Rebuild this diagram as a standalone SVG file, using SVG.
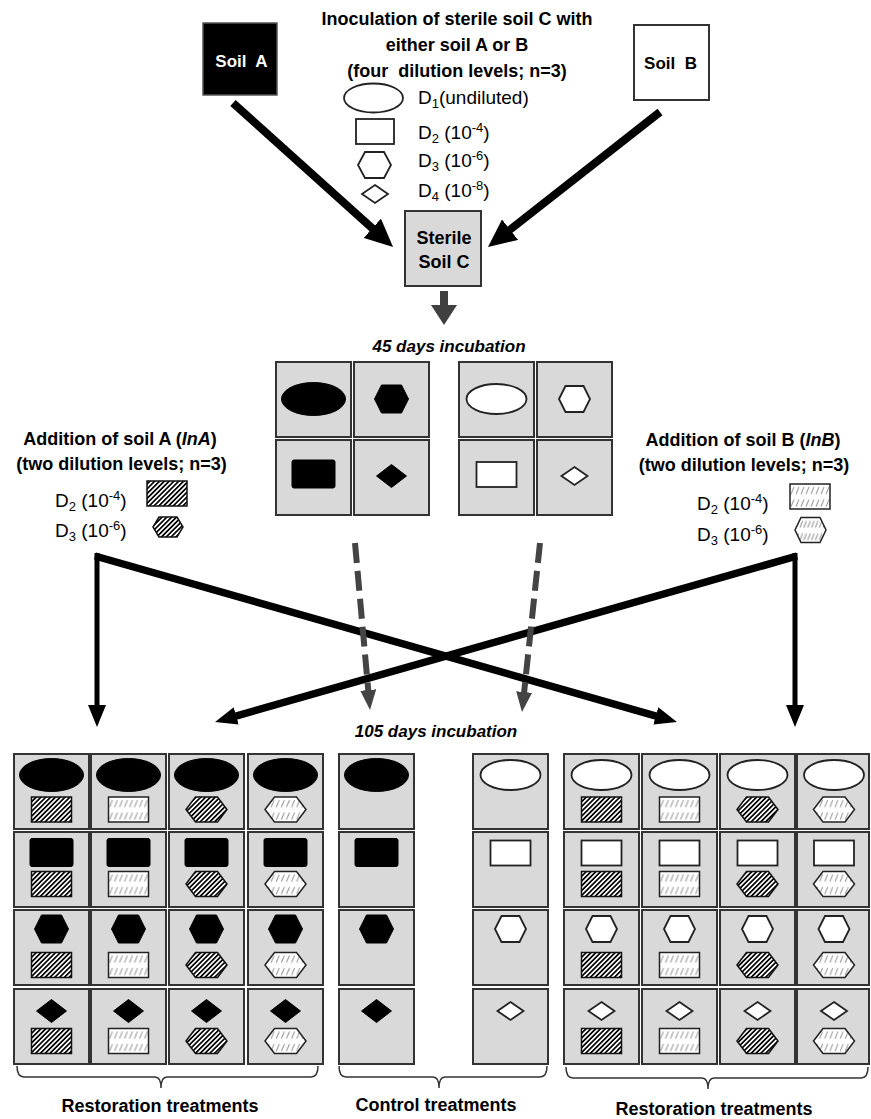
<svg xmlns="http://www.w3.org/2000/svg" xmlns:xlink="http://www.w3.org/1999/xlink" width="871" height="1119" viewBox="0 0 871 1119">
<defs>
<style>
text{font-family:"Liberation Sans",Arial,sans-serif;fill:#000}
.b{font-weight:bold}
.bi{font-weight:bold;font-style:italic}
.t18{font-size:18px}
.lg{font-size:19px}
.cell{fill:#d9d9d9;stroke:#333;stroke-width:2}
.blk{fill:#000;stroke:#000;stroke-width:1}
.wht{fill:#fff;stroke:#222;stroke-width:1.8}
.hd{fill:url(#hatchD);stroke:#111;stroke-width:1.5}
.hl{fill:url(#hatchL);stroke:#222;stroke-width:1.5}
.arr{stroke:#000;fill:none}
.dash{stroke:#444;stroke-width:6;stroke-dasharray:20 8;fill:none}
.brace{fill:none;stroke:#333;stroke-width:1.5}
</style>
<pattern id="hatchD" patternUnits="userSpaceOnUse" width="3.4" height="3.4" patternTransform="rotate(45)">
<rect width="3.4" height="3.4" fill="#fff"/><rect width="1.7" height="3.4" fill="#000"/>
</pattern>
<pattern id="hatchL" patternUnits="objectBoundingBox" width="0.125" height="0.5">
<rect width="8" height="16" fill="#fff"/><path d="M1,10 L4,3" stroke="#9a9a9a" stroke-width="1.1"/>
</pattern>
<marker id="bigHead" markerUnits="userSpaceOnUse" markerWidth="28" markerHeight="26" refX="6" refY="13" orient="auto"><path d="M0,0 L28,13 L0,26 z" fill="#000"/></marker>
<marker id="head" markerUnits="userSpaceOnUse" markerWidth="22" markerHeight="18" refX="5" refY="9" orient="auto"><path d="M0,0 L22,9 L0,18 z" fill="#000"/></marker>
<marker id="grayBig" markerUnits="userSpaceOnUse" markerWidth="20" markerHeight="26" refX="2" refY="13" orient="auto"><path d="M0,0 L20,13 L0,26 z" fill="#404040"/></marker>
<marker id="grayHead" markerUnits="userSpaceOnUse" markerWidth="20" markerHeight="16" refX="4" refY="8" orient="auto"><path d="M0,0 L20,8 L0,16 z" fill="#444"/></marker>
<ellipse id="ellBig" rx="32" ry="16.5"/>
<ellipse id="ellSm" rx="30" ry="15"/>
<rect id="recBig" x="-21.5" y="-14" width="43" height="28" rx="2"/>
<rect id="recSm" x="-20" y="-12.5" width="40" height="25"/>
<polygon id="hexBig" points="-17,0 -10,-14 10,-14 17,0 10,14 -10,14"/>
<polygon id="hexSm" points="-15.5,0 -9,-13 9,-13 15.5,0 9,13 -9,13"/>
<polygon id="hexH" points="-20.5,0 -11,-12.5 11,-12.5 20.5,0 11,12.5 -11,12.5"/>
<polygon id="diaBig" points="0,-11.5 15,0 0,11.5 -15,0"/>
<polygon id="diaSm" points="0,-9 13,0 0,9 -13,0"/>
</defs>
<rect width="871" height="1119" fill="#fff"/>

<g id="soilA">
<rect x="203" y="23" width="74" height="72" fill="#000" stroke="#555" stroke-width="1.5"/>
<text x="241.5" y="67" text-anchor="middle" class="b" font-size="17" style="fill:#fff" xml:space="preserve">Soil  A</text>
</g>
<g id="soilB">
<rect x="634" y="25" width="75" height="75" fill="#fff" stroke="#333" stroke-width="2"/>
<text x="670.5" y="69" text-anchor="middle" class="b" font-size="17" xml:space="preserve">Soil  B</text>
</g>

<g id="inoculation-legend">
<text x="457" y="25" text-anchor="middle" class="b t18">Inoculation of sterile soil C with</text>
<text x="457" y="51" text-anchor="middle" class="b t18">either soil A or B</text>
<text x="457" y="77" text-anchor="middle" class="b t18" xml:space="preserve">(four  dilution levels; n=3)</text>
<ellipse cx="373.5" cy="98" rx="29.5" ry="14.5" class="wht"/>
<rect x="356" y="119" width="38" height="25" class="wht"/>
<polygon points="358,165 365,152 384,152 391,165 384,178 365,178" class="wht"/>
<polygon points="375,185 388,194 375,203 362,194" class="wht"/>
<text x="418" y="104" class="lg">D<tspan font-size="13" dy="4">1</tspan><tspan dy="-4">(undiluted)</tspan></text>
<text x="418" y="139" class="lg">D<tspan font-size="13" dy="4">2</tspan><tspan dy="-4"> (10</tspan><tspan font-size="13" dy="-7">-4</tspan><tspan dy="7">)</tspan></text>
<text x="418" y="167" class="lg">D<tspan font-size="13" dy="4">3</tspan><tspan dy="-4"> (10</tspan><tspan font-size="13" dy="-7">-6</tspan><tspan dy="7">)</tspan></text>
<text x="418" y="197" class="lg">D<tspan font-size="13" dy="4">4</tspan><tspan dy="-4"> (10</tspan><tspan font-size="13" dy="-7">-8</tspan><tspan dy="7">)</tspan></text>
</g>

<g id="sterileC">
<rect x="405" y="211" width="76" height="75" class="cell"/>
<text x="444" y="244" text-anchor="middle" class="b t18">Sterile</text>
<text x="444" y="268" text-anchor="middle" class="b t18">Soil C</text>
</g>

<g id="incubation45">
<text x="449" y="352" text-anchor="middle" class="bi" font-size="17">45 days incubation</text>
<rect x="276" y="362" width="75" height="75" class="cell"/>
<rect x="354" y="362" width="75" height="75" class="cell"/>
<rect x="459" y="362" width="75" height="75" class="cell"/>
<rect x="537" y="362" width="75" height="75" class="cell"/>
<rect x="276" y="440" width="75" height="75" class="cell"/>
<rect x="354" y="440" width="75" height="75" class="cell"/>
<rect x="459" y="440" width="75" height="75" class="cell"/>
<rect x="537" y="440" width="75" height="75" class="cell"/>
<use xlink:href="#ellBig" x="313.5" y="399" class="blk"/>
<use xlink:href="#hexBig" x="391.5" y="399" class="blk"/>
<use xlink:href="#ellSm" x="496.5" y="399" class="wht"/>
<use xlink:href="#hexSm" x="574.5" y="399" class="wht"/>
<use xlink:href="#recBig" x="313.5" y="474" class="blk"/>
<use xlink:href="#diaBig" x="391.5" y="476" class="blk"/>
<use xlink:href="#recSm" x="496.5" y="474.5" class="wht"/>
<use xlink:href="#diaSm" x="574.5" y="476" class="wht"/>
</g>

<g id="additionA">
<text x="120" y="445" text-anchor="middle" class="b t18">Addition of soil A (<tspan font-style="italic">InA</tspan>)</text>
<text x="121.5" y="470" text-anchor="middle" class="b t18">(two dilution levels; n=3)</text>
<text x="55" y="507" class="lg">D<tspan font-size="13" dy="4">2</tspan><tspan dy="-4"> (10</tspan><tspan font-size="13" dy="-7">-4</tspan><tspan dy="7">)</tspan></text>
<text x="55" y="537" class="lg">D<tspan font-size="13" dy="4">3</tspan><tspan dy="-4"> (10</tspan><tspan font-size="13" dy="-7">-6</tspan><tspan dy="7">)</tspan></text>
<rect x="147" y="481" width="40" height="25" class="hd"/>
<polygon points="153,527 159,517 177,517 183,527 177,537 159,537" class="hd"/>
</g>

<g id="additionB">
<text x="743" y="446" text-anchor="middle" class="b t18">Addition of soil B (<tspan font-style="italic">InB</tspan>)</text>
<text x="744" y="471" text-anchor="middle" class="b t18">(two dilution levels; n=3)</text>
<text x="697" y="510" class="lg">D<tspan font-size="13" dy="4">2</tspan><tspan dy="-4"> (10</tspan><tspan font-size="13" dy="-7">-4</tspan><tspan dy="7">)</tspan></text>
<text x="697" y="541" class="lg">D<tspan font-size="13" dy="4">3</tspan><tspan dy="-4"> (10</tspan><tspan font-size="13" dy="-7">-6</tspan><tspan dy="7">)</tspan></text>
<rect x="790" y="484" width="40" height="25" class="hl"/>
<polygon points="795,530 801,517.5 820,517.5 826,530 820,542.5 801,542.5" class="hl"/>
</g>

<g id="connectors">
<line x1="233" y1="103" x2="376.7" y2="232.3" class="arr" stroke-width="8" marker-end="url(#bigHead)"/>
<line x1="660" y1="112" x2="505.3" y2="233.4" class="arr" stroke-width="8" marker-end="url(#bigHead)"/>
<line x1="444" y1="291" x2="444" y2="307" stroke="#404040" stroke-width="8" marker-end="url(#grayBig)"/>
<line x1="97" y1="553" x2="97" y2="710" class="arr" stroke-width="5" marker-end="url(#head)"/>
<line x1="95" y1="556" x2="660.6" y2="717.3" class="arr" stroke-width="7.5" marker-end="url(#head)"/>
<line x1="795" y1="553" x2="795" y2="710" class="arr" stroke-width="5" marker-end="url(#head)"/>
<line x1="797" y1="556" x2="231.4" y2="717.3" class="arr" stroke-width="7.5" marker-end="url(#head)"/>
<line x1="355" y1="543" x2="368.6" y2="694" class="dash" marker-end="url(#grayHead)"/>
<line x1="540" y1="543" x2="523.7" y2="696" class="dash" marker-end="url(#grayHead)"/>
</g>

<text x="436" y="737" text-anchor="middle" class="bi" font-size="17">105 days incubation</text>

<g id="restorationA">
<rect x="14" y="754" width="75" height="75" class="cell"/>
<rect x="91" y="754" width="75" height="75" class="cell"/>
<rect x="169" y="754" width="75" height="75" class="cell"/>
<rect x="248" y="754" width="75" height="75" class="cell"/>
<rect x="14" y="832" width="75" height="75" class="cell"/>
<rect x="91" y="832" width="75" height="75" class="cell"/>
<rect x="169" y="832" width="75" height="75" class="cell"/>
<rect x="248" y="832" width="75" height="75" class="cell"/>
<rect x="14" y="910" width="75" height="75" class="cell"/>
<rect x="91" y="910" width="75" height="75" class="cell"/>
<rect x="169" y="910" width="75" height="75" class="cell"/>
<rect x="248" y="910" width="75" height="75" class="cell"/>
<rect x="14" y="989" width="75" height="75" class="cell"/>
<rect x="91" y="989" width="75" height="75" class="cell"/>
<rect x="169" y="989" width="75" height="75" class="cell"/>
<rect x="248" y="989" width="75" height="75" class="cell"/>
<use xlink:href="#ellBig" x="51.5" y="775" class="blk"/>
<use xlink:href="#ellBig" x="128.5" y="775" class="blk"/>
<use xlink:href="#ellBig" x="206.5" y="775" class="blk"/>
<use xlink:href="#ellBig" x="285.5" y="775" class="blk"/>
<use xlink:href="#recBig" x="51.5" y="852.5" class="blk"/>
<use xlink:href="#recBig" x="128.5" y="852.5" class="blk"/>
<use xlink:href="#recBig" x="206.5" y="852.5" class="blk"/>
<use xlink:href="#recBig" x="285.5" y="852.5" class="blk"/>
<use xlink:href="#hexBig" x="51.5" y="929" class="blk"/>
<use xlink:href="#hexBig" x="128.5" y="929" class="blk"/>
<use xlink:href="#hexBig" x="206.5" y="929" class="blk"/>
<use xlink:href="#hexBig" x="285.5" y="929" class="blk"/>
<use xlink:href="#diaBig" x="51.5" y="1011" class="blk"/>
<use xlink:href="#diaBig" x="128.5" y="1011" class="blk"/>
<use xlink:href="#diaBig" x="206.5" y="1011" class="blk"/>
<use xlink:href="#diaBig" x="285.5" y="1011" class="blk"/>
<use xlink:href="#recSm" x="51.5" y="809.5" class="hd"/>
<use xlink:href="#recSm" x="128.5" y="809.5" class="hl"/>
<use xlink:href="#hexH" x="206.5" y="809.5" class="hd"/>
<use xlink:href="#hexH" x="285.5" y="809.5" class="hl"/>
<use xlink:href="#recSm" x="51.5" y="884" class="hd"/>
<use xlink:href="#recSm" x="128.5" y="884" class="hl"/>
<use xlink:href="#hexH" x="206.5" y="884" class="hd"/>
<use xlink:href="#hexH" x="285.5" y="884" class="hl"/>
<use xlink:href="#recSm" x="51.5" y="965" class="hd"/>
<use xlink:href="#recSm" x="128.5" y="965" class="hl"/>
<use xlink:href="#hexH" x="206.5" y="965" class="hd"/>
<use xlink:href="#hexH" x="285.5" y="965" class="hl"/>
<use xlink:href="#recSm" x="51.5" y="1041" class="hd"/>
<use xlink:href="#recSm" x="128.5" y="1041" class="hl"/>
<use xlink:href="#hexH" x="206.5" y="1041" class="hd"/>
<use xlink:href="#hexH" x="285.5" y="1041" class="hl"/>
</g>

<g id="control">
<rect x="339" y="754" width="75" height="75" class="cell"/>
<rect x="339" y="832" width="75" height="75" class="cell"/>
<rect x="339" y="910" width="75" height="75" class="cell"/>
<rect x="339" y="989" width="75" height="75" class="cell"/>
<rect x="473" y="754" width="75" height="75" class="cell"/>
<rect x="473" y="832" width="75" height="75" class="cell"/>
<rect x="473" y="910" width="75" height="75" class="cell"/>
<rect x="473" y="989" width="75" height="75" class="cell"/>
<use xlink:href="#ellBig" x="376.5" y="775" class="blk"/>
<use xlink:href="#recBig" x="376.5" y="852.5" class="blk"/>
<use xlink:href="#hexBig" x="376.5" y="929" class="blk"/>
<use xlink:href="#diaBig" x="376.5" y="1011" class="blk"/>
<use xlink:href="#ellSm" x="510.5" y="775" class="wht"/>
<use xlink:href="#recSm" x="510.5" y="853" class="wht"/>
<use xlink:href="#hexSm" x="510.5" y="929" class="wht"/>
<use xlink:href="#diaSm" x="510.5" y="1011" class="wht"/>
</g>

<g id="restorationB">
<rect x="564" y="754" width="75" height="75" class="cell"/>
<rect x="642" y="754" width="75" height="75" class="cell"/>
<rect x="720" y="754" width="75" height="75" class="cell"/>
<rect x="797" y="754" width="72" height="75" class="cell"/>
<rect x="564" y="832" width="75" height="75" class="cell"/>
<rect x="642" y="832" width="75" height="75" class="cell"/>
<rect x="720" y="832" width="75" height="75" class="cell"/>
<rect x="797" y="832" width="72" height="75" class="cell"/>
<rect x="564" y="910" width="75" height="75" class="cell"/>
<rect x="642" y="910" width="75" height="75" class="cell"/>
<rect x="720" y="910" width="75" height="75" class="cell"/>
<rect x="797" y="910" width="72" height="75" class="cell"/>
<rect x="564" y="989" width="75" height="75" class="cell"/>
<rect x="642" y="989" width="75" height="75" class="cell"/>
<rect x="720" y="989" width="75" height="75" class="cell"/>
<rect x="797" y="989" width="72" height="75" class="cell"/>
<use xlink:href="#ellSm" x="601.5" y="775" class="wht"/>
<use xlink:href="#ellSm" x="679.5" y="775" class="wht"/>
<use xlink:href="#ellSm" x="757.5" y="775" class="wht"/>
<use xlink:href="#ellSm" x="834" y="775" class="wht"/>
<use xlink:href="#recSm" x="601.5" y="853" class="wht"/>
<use xlink:href="#recSm" x="679.5" y="853" class="wht"/>
<use xlink:href="#recSm" x="757.5" y="853" class="wht"/>
<use xlink:href="#recSm" x="834" y="853" class="wht"/>
<use xlink:href="#hexSm" x="601.5" y="929" class="wht"/>
<use xlink:href="#hexSm" x="679.5" y="929" class="wht"/>
<use xlink:href="#hexSm" x="757.5" y="929" class="wht"/>
<use xlink:href="#hexSm" x="834" y="929" class="wht"/>
<use xlink:href="#diaSm" x="601.5" y="1011" class="wht"/>
<use xlink:href="#diaSm" x="679.5" y="1011" class="wht"/>
<use xlink:href="#diaSm" x="757.5" y="1011" class="wht"/>
<use xlink:href="#diaSm" x="834" y="1011" class="wht"/>
<use xlink:href="#recSm" x="601.5" y="809.5" class="hd"/>
<use xlink:href="#recSm" x="679.5" y="809.5" class="hl"/>
<use xlink:href="#hexH" x="757.5" y="809.5" class="hd"/>
<use xlink:href="#hexH" x="834" y="809.5" class="hl"/>
<use xlink:href="#recSm" x="601.5" y="884" class="hd"/>
<use xlink:href="#recSm" x="679.5" y="884" class="hl"/>
<use xlink:href="#hexH" x="757.5" y="884" class="hd"/>
<use xlink:href="#hexH" x="834" y="884" class="hl"/>
<use xlink:href="#recSm" x="601.5" y="965" class="hd"/>
<use xlink:href="#recSm" x="679.5" y="965" class="hl"/>
<use xlink:href="#hexH" x="757.5" y="965" class="hd"/>
<use xlink:href="#hexH" x="834" y="965" class="hl"/>
<use xlink:href="#recSm" x="601.5" y="1041" class="hd"/>
<use xlink:href="#recSm" x="679.5" y="1041" class="hl"/>
<use xlink:href="#hexH" x="757.5" y="1041" class="hd"/>
<use xlink:href="#hexH" x="834" y="1041" class="hl"/>
</g>

<g id="brackets">
<path class="brace" d="M17,1066 Q17,1077 24,1077 L155,1077 Q161,1077 161,1088 Q161,1077 167,1077 L311,1077 Q318,1077 318,1066"/>
<path class="brace" d="M339,1066 Q339,1077 346,1077 L433,1077 Q439,1077 439,1088 Q439,1077 445,1077 L540,1077 Q547,1077 547,1066"/>
<path class="brace" d="M566,1067 Q566,1078 573,1078 L702,1078 Q708,1078 708,1089 Q708,1078 714,1078 L861,1078 Q868,1078 868,1067"/>
<text x="160" y="1112" text-anchor="middle" class="b t18">Restoration treatments</text>
<text x="436" y="1111" text-anchor="middle" class="b t18">Control treatments</text>
<text x="714" y="1115" text-anchor="middle" class="b t18">Restoration treatments</text>
</g>
</svg>
